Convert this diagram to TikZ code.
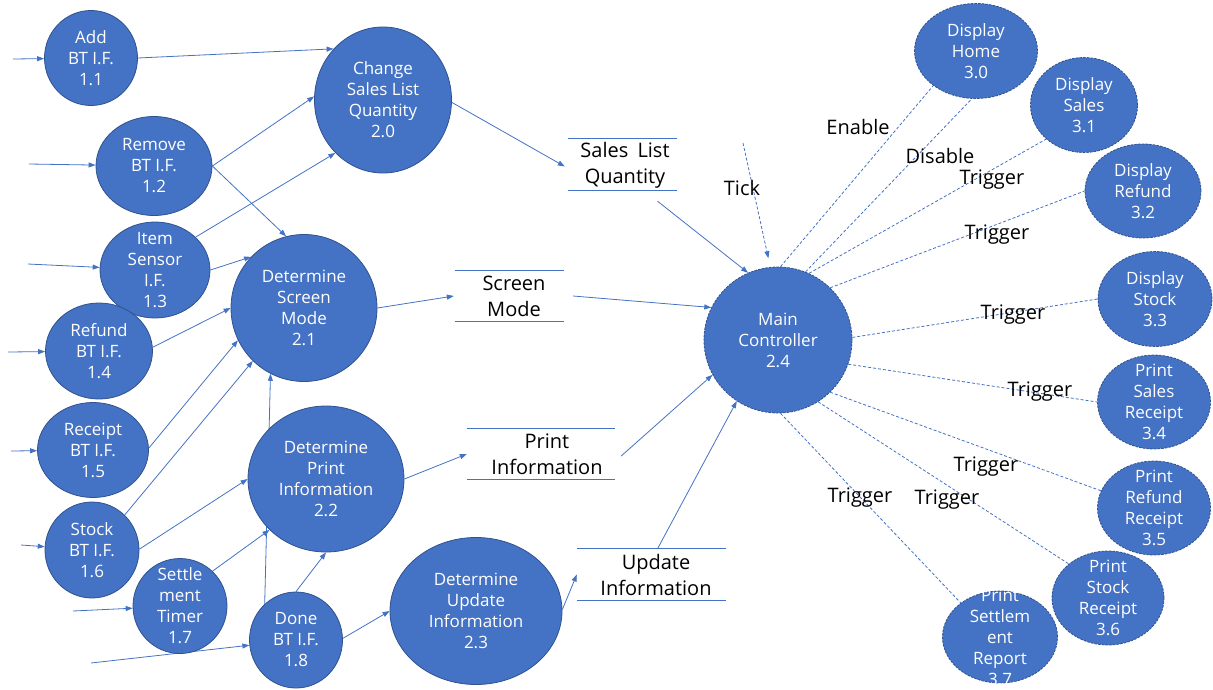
\documentclass[tikz,border=0pt]{standalone}
\usepackage{fontspec}
\setmainfont{Open Sans}
\usetikzlibrary{arrows.meta,shapes.geometric,backgrounds}
\definecolor{obl}{HTML}{4472C4}
\definecolor{obd}{HTML}{2F528F}
\begin{document}
\begin{tikzpicture}[x=1pt,y=-1pt,
  proc/.style={ellipse, fill=obl, draw=obd, line width=0.8pt, inner sep=0pt},
  dproc/.style={proc, dash pattern=on 2.5pt off 1.2pt},
  ptext/.style={text=white, align=center, font=\fontsize{17}{21}\selectfont, inner sep=0pt},
  lab/.style={text=black, align=center, font=\fontsize{20}{26}\selectfont, inner sep=0pt},
  storebox/.style={inner sep=0pt, minimum height=51pt},
  storeline/.style={draw=obl, line width=0.9pt},
  flow/.style={draw=obl, line width=0.8pt, -{Triangle[length=7pt,width=5pt]}},
  ctrl/.style={draw=obl, line width=0.8pt, dash pattern=on 3pt off 2pt},
]
\useasboundingbox (0,0) rectangle (1213,689);

% ---------- left processes ----------
\node[proc, minimum width=93pt, minimum height=95pt] (p11) at (91,58) {};
\node[ptext] (p11t) at (p11) {Add\\BT I.F.\\1.1};
\node[proc, minimum width=116pt, minimum height=99pt] (p12) at (154,166) {};
\node[ptext] (p12t) at (p12) {Remove\\BT I.F.\\1.2};
\node[proc, minimum width=110pt, minimum height=96pt] (p13) at (155,270) {};
\node[ptext] (p13t) at (p13) {Item\\Sensor\\I.F.\\1.3};
\node[proc, minimum width=107pt, minimum height=96pt] (p14) at (99,351) {};
\node[ptext] (p14t) at (p14) {Refund\\BT I.F.\\1.4};
\node[proc, minimum width=111pt, minimum height=95pt] (p15) at (93,450) {};
\node[ptext] (p15t) at (p15) {Receipt\\BT I.F.\\1.5};
\node[proc, minimum width=94pt, minimum height=96pt] (p16) at (92,550) {};
\node[ptext] (p16t) at (p16) {Stock\\BT I.F.\\1.6};
\node[proc, minimum width=94pt, minimum height=95pt] (p17) at (180,606) {};
\node[ptext] (p17t) at (p17) {Settle\\ment\\Timer\\1.7};
\node[proc, minimum width=93pt, minimum height=96pt] (p18) at (296,640) {};
\node[ptext] (p18t) at (p18) {Done\\BT I.F.\\1.8};

% ---------- middle processes ----------
\node[proc, minimum width=137pt, minimum height=146pt] (p20) at (383,100) {};
\node[ptext] (p20t) at (p20) {Change\\Sales List\\Quantity\\2.0};
\node[proc, minimum width=146pt, minimum height=147pt] (p21) at (304,308) {};
\node[ptext] (p21t) at (p21) {Determine\\Screen\\Mode\\2.1};
\node[proc, minimum width=156pt, minimum height=146pt] (p22) at (326,479) {};
\node[ptext] (p22t) at (p22) {Determine\\Print\\Information\\2.2};
\node[proc, minimum width=172pt, minimum height=147pt] (p23) at (476,611) {};
\node[ptext] (p23t) at (p23) {Determine\\Update\\Information\\2.3};
\node[dproc, minimum width=148pt, minimum height=146pt] (p24) at (778,340) {};
\node[ptext] (p24t) at (p24) {Main\\Controller\\2.4};

% ---------- right processes ----------
\node[dproc, minimum width=123pt, minimum height=95pt] (p30) at (976,51) {};
\node[ptext] (p30t) at (p30) {Display\\Home\\3.0};
\node[dproc, minimum width=107pt, minimum height=95pt] (p31) at (1084,105) {};
\node[ptext] (p31t) at (p31) {Display\\Sales\\3.1};
\node[dproc, minimum width=116pt, minimum height=94pt] (p32) at (1143,191) {};
\node[ptext] (p32t) at (p32) {Display\\Refund\\3.2};
\node[dproc, minimum width=114pt, minimum height=95pt] (p33) at (1155,299) {};
\node[ptext] (p33t) at (p33) {Display\\Stock\\3.3};
\node[dproc, minimum width=113pt, minimum height=94pt] (p34) at (1154,402) {};
\node[ptext] (p34t) at (p34) {Print\\Sales\\Receipt\\3.4};
\node[dproc, minimum width=113pt, minimum height=94pt] (p35) at (1154,508) {};
\node[ptext] (p35t) at (p35) {Print\\Refund\\Receipt\\3.5};
\node[dproc, minimum width=112pt, minimum height=94pt] (p36) at (1108,598) {};
\node[ptext] (p36t) at (p36) {Print\\Stock\\Receipt\\3.6};
\node[dproc, minimum width=115pt, minimum height=92pt] (p37) at (1000,637) {};
\node[ptext] (p37t) at (p37) {Print\\Settlem\\ent\\Report\\3.7};

% ---------- data stores ----------
\node[storebox, minimum width=109pt] (sl) at (622.5,164.5) {};
\node[lab] (slt) at (625,165) {Sales\hspace{0.2em} List\\Quantity};
\node[storebox, minimum width=109pt] (sm) at (509.5,296) {};
\node[lab] (smt) at (514,296) {Screen\\Mode};
\node[storebox, minimum width=148pt] (pi) at (541,454) {};
\node[lab] (pit) at (547,454) {Print\\Information};
\node[storebox, minimum width=149pt] (ui) at (651.5,574.5) {};
\node[lab] (uit) at (656,575) {Update\\Information};
\foreach \s in {sl,sm,pi,ui}{
  \draw[storeline] (\s.north west) -- (\s.north east) (\s.south west) -- (\s.south east);
}

% ---------- free ends ----------
\coordinate (in11) at (13,59);
\coordinate (in12) at (29,164);
\coordinate (in13) at (28,264);
\coordinate (in14) at (8,352);
\coordinate (in15) at (11,451);
\coordinate (in16) at (21,545);
\coordinate (in17) at (73,611);
\coordinate (in18) at (91,663);
\coordinate (tick) at (743,143);

% ---------- labels ----------
\node[lab] (ltick) at (742,188) {Tick};
\node[lab] (lena) at (858,127) {Enable};
\node[lab] (ldis) at (940,156) {Disable};
\node[lab] (lt1) at (992,180) {Trigger};
\node[lab] (lt2) at (997,235) {Trigger};
\node[lab] (lt3) at (1013,315) {Trigger};
\node[lab] (lt4) at (1040,392) {Trigger};
\node[lab] (lt5) at (986,467) {Trigger};
\node[lab] (lt6) at (947,500) {Trigger};
\node[lab] (lt7) at (860,498) {Trigger};

\begin{pgfonlayer}{background}
% inputs
\draw[flow] (in11) -- (p11);
\draw[flow] (in12) -- (p12);
\draw[flow] (in13) -- (p13);
\draw[flow] (in14) -- (p14);
\draw[flow] (in15) -- (p15);
\draw[flow] (in16) -- (p16);
\draw[flow] (in17) -- (p17);
\draw[flow] (in18) -- (p18);
% internal flows
\draw[flow] (p11.0) -- (p20.134);
\draw[flow] (p12.0) -- (p20.177);
\draw[flow] (p12.0) -- (p21.104);
\draw[flow] (p13.39) -- (p20.228);
\draw[flow] (p13.0) -- (p21.136);
\draw[flow] (p14.4) -- (p21.180);
\draw[flow] (p15.2) -- (p21.206);
\draw[flow] (p16.47) -- (p21.226);
\draw[flow] (p16.1) -- (p22.180);
\draw[flow] (p17.47) -- (p22.222);
\draw[flow] (p18.131) -- (p21.243);
\draw[flow] (p18.90) -- (p22.270);
\draw[flow] (p18.2) -- (p23.180);
\draw[flow] (p20.358) -- ([xshift=-3pt,yshift=-2pt]sl.west);
\draw[flow] ([xshift=35pt,yshift=-11pt]sl.south) -- (p24.114);
\draw[flow] (p21.0) -- ([xshift=-1pt]sm.west);
\draw[flow] ([xshift=9pt]sm.east) -- (p24.154);
\draw[flow] (p22.0) -- (pi.west);
\draw[flow] ([xshift=6pt,yshift=-2pt]pi.east) -- (p24.208);
\draw[flow] (p23.1) -- (ui.west);
\draw[flow] ([xshift=6pt]ui.north) -- (p24.236);
% control flows
\draw[ctrl, -{Triangle[length=7pt,width=5pt]}, shorten >=9pt] (tick) -- (p24.96);
\draw[ctrl] (p24.88) -- (p30.219);
\draw[ctrl] (p24.68) -- (p30.265);
\draw[ctrl] (p24.65) -- (p31.222);
\draw[ctrl] (p24.45) -- (p32.180);
\draw[ctrl] (p24.2) -- (p33.180);
\draw[ctrl] (p24.-19) -- (p34.180);
\draw[ctrl] (p24.-45) -- (p35.162);
\draw[ctrl] (p24.-57) -- (p36.139);
\draw[ctrl] (p24.-88) -- (p37.139);
\end{pgfonlayer}
\end{tikzpicture}
\end{document}
